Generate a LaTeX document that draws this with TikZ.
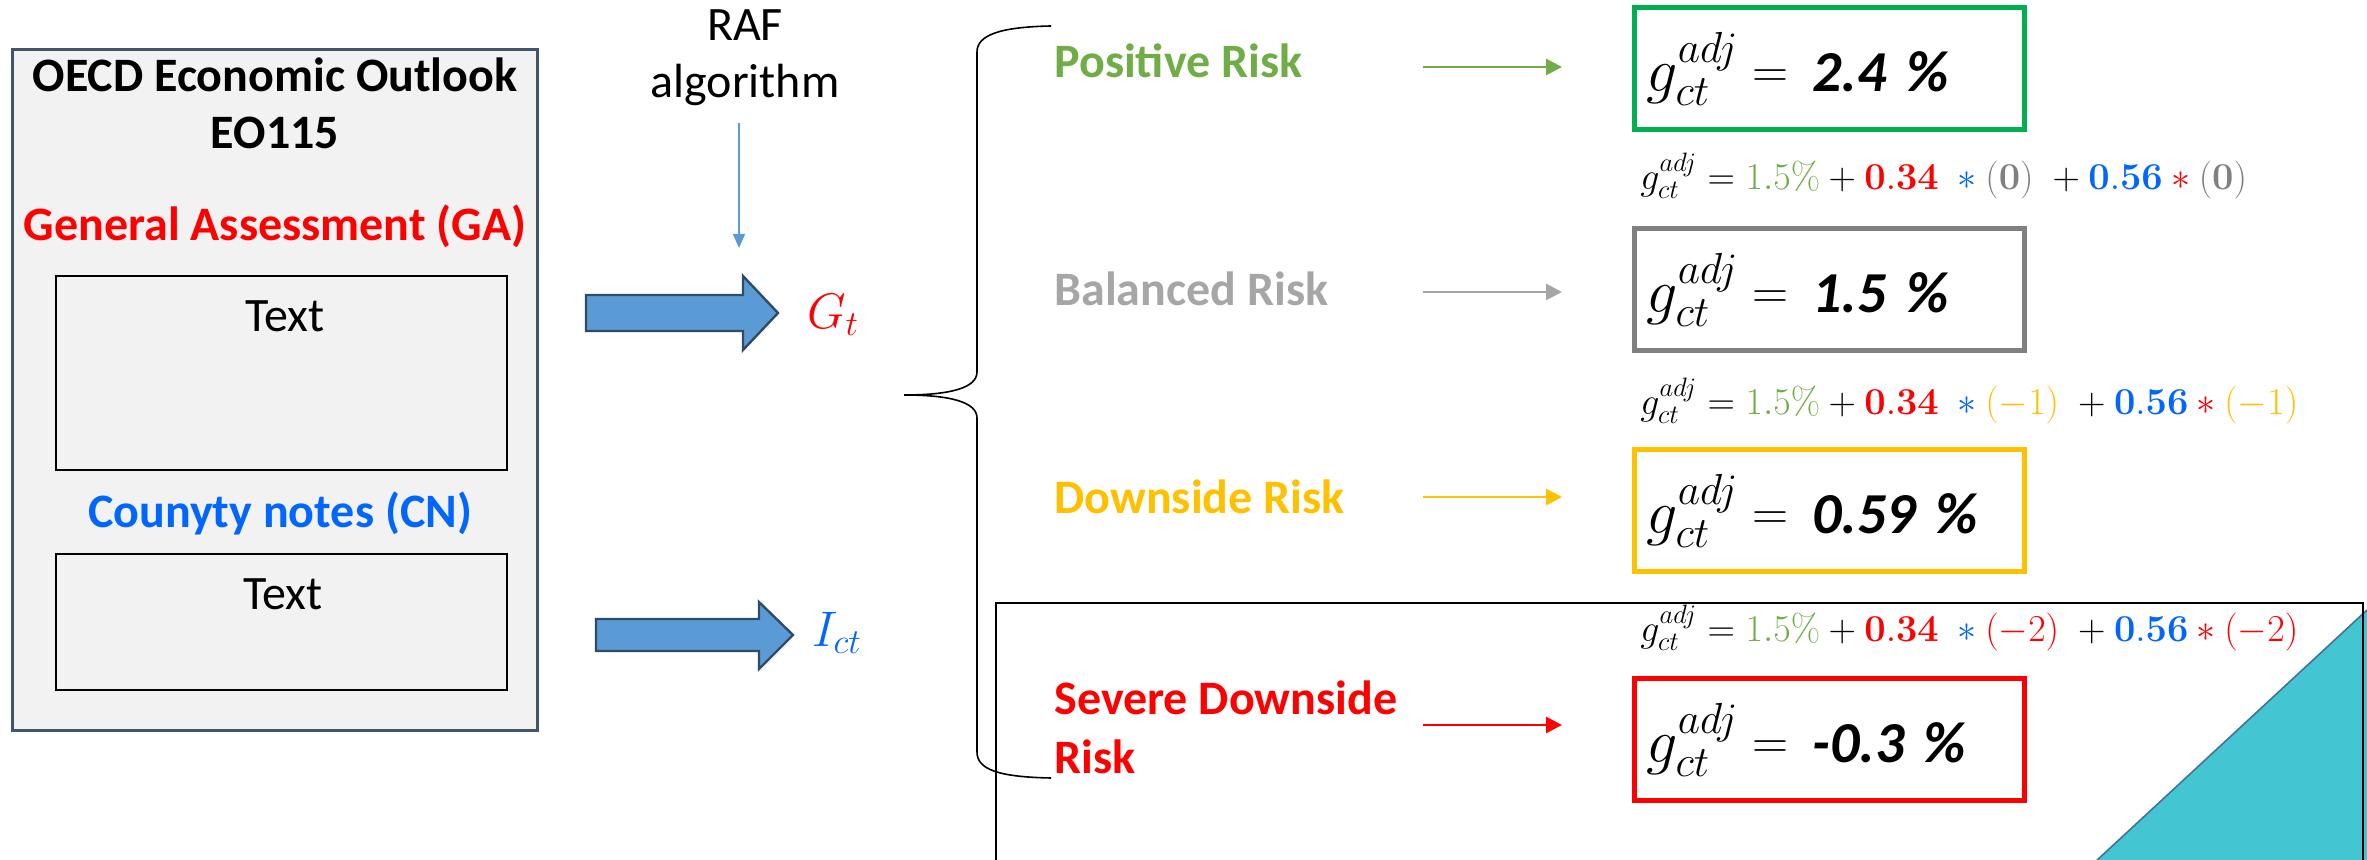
\RequirePackage{fix-cm}
\documentclass[tikz,border=0pt]{standalone}
\usepackage[no-math]{fontspec}
\setmainfont{Carlito}
\usepackage{amsmath}
\usetikzlibrary{arrows.meta,positioning}

\definecolor{riskgreen}{HTML}{70AD47}
\definecolor{boxgreen}{HTML}{00B050}
\definecolor{riskgray}{HTML}{A6A6A6}
\definecolor{boxgray}{HTML}{808080}
\definecolor{riskyellow}{HTML}{FFC000}
\definecolor{cnblue}{HTML}{0066FF}
\definecolor{arrowblue}{HTML}{5B9BD5}
\definecolor{arrowedge}{HTML}{2F4B68}
\definecolor{boxfill}{HTML}{F2F2F2}
\definecolor{boxedge}{HTML}{44546A}
\definecolor{cornerteal}{HTML}{43C6D1}
\definecolor{corneredge}{HTML}{41719C}

\begin{document}
\begin{tikzpicture}[x=0.5pt,y=-0.5pt,
  lbl/.style={font=\fontsize{24}{28.5}\selectfont\bfseries, align=center, inner sep=0pt},
  txt/.style={font=\fontsize{24}{28.5}\selectfont, align=center, inner sep=0pt},
  risk/.style={font=\fontsize{24}{29.5}\selectfont\bfseries, align=left, anchor=west, inner sep=0pt},
  riskarr/.style={line width=1.4pt, -{Triangle[length=8pt,width=8pt]}},
  valbox/.style={draw, line width=2.5pt, anchor=north west, minimum height=61pt,
    text width=183pt, inner xsep=6pt, align=left, font=\fontsize{29}{32}\selectfont},
  sumline/.style={anchor=base west, inner sep=0pt, font=\fontsize{19}{22}\selectfont},
  bigarr/.style={draw=arrowedge, fill=arrowblue, line width=1.2pt}]
\useasboundingbox (0,0) rectangle (2367,860);

% source document
\draw[boxedge, fill=boxfill, line width=1.5pt] (12,50) rectangle (537,730);
\draw[fill=boxfill, line width=1pt] (56,276) rectangle (507,470);
\draw[fill=boxfill, line width=1pt] (56,554) rectangle (507,690);
\node[lbl] (title) at (275,103) {OECD Economic Outlook\\EO115};
\node[lbl, text=red] (ga) at (275,226) {General Assessment (GA)};
\node[txt] (gatext) at (285,316) {Text};
\node[lbl, text=cnblue] (cn) at (280,513) {Counyty notes (CN)};
\node[txt] (cntext) at (283,594) {Text};

% algorithm
\node[txt] (raf) at (745,58) {RAF\\algorithm};
\coordinate (rafend) at (739,248);
\draw[arrowblue, line width=0.7pt, -{Triangle[length=7pt,width=6pt]}] (raf.south -| rafend) ++(0,17) -- (rafend);

\draw[bigarr] (586,295) -- (743,295) -- (743,276) -- (778,313) -- (743,350) -- (743,331) -- (586,331) -- cycle;
\draw[bigarr] (596,619) -- (759,619) -- (759,602) -- (793,635) -- (759,669) -- (759,651) -- (596,651) -- cycle;
\node[text=red, font=\fontsize{25}{30}\selectfont] (gt) at (833,315) {$G_t$};
\node[text=cnblue, font=\fontsize{25}{30}\selectfont] (ict) at (837,633) {$I_{ct}$};

% brace
\draw[line width=0.8pt] (1051,26) .. controls (1000,27) and (977,35) .. (977,52)
  -- (977,372) .. controls (977,388) and (950,395) .. (904,395)
  .. controls (950,395) and (977,402) .. (977,418)
  -- (977,752) .. controls (977,770) and (1000,777) .. (1051,778);

% scenarios
\fill[cornerteal] (2095,862) -- (2367,610) -- (2367,862) -- cycle;
\draw[corneredge, line width=0.8pt] (2095,862) -- (2367,610);
\draw[line width=1.2pt] (996,870) -- (996,603) -- (2363,603) -- (2363,870);

\foreach \i/\ly/\ay/\by/\tcol/\bcol/\name/\val in {
  1/61/67/5/riskgreen/boxgreen/{Positive Risk}/{2.4},
  2/289/292/226/riskgray/boxgray/{Balanced Risk}/{1.5},
  3/497/497/447/riskyellow/riskyellow/{Downside Risk}/{0.59},
  4/727/725/676/red/red/{Severe Downside\\Risk}/{-0.3}}{
  \node[risk, text=\tcol] (risk\i) at (1054,\ly) {\name};
  \coordinate (from\i) at (1423,\ay);
  \coordinate (to\i) at (1562,\ay);
  \draw[riskarr, \tcol] (from\i) -- (to\i);
  \node[valbox, draw=\bcol] (val\i) at (1632,\by)
    {{\fontsize{31}{33}\selectfont$g_{ct}^{adj}$}\hspace{7pt}\raisebox{2pt}{\fontsize{25}{27}\selectfont$=$}\hspace{12pt}\textbf{\textit{\val\ \%}}};
}

\foreach \j/\y/\mcol/\m in {1/190/boxgray/{\mathbf{(0)}}, 2/415/riskyellow/{(-1)}, 3/642/red/{(-2)}}{
  \node[sumline] (sum\j) at (1640,\y) {$g_{ct}^{adj} = {\color{riskgreen}1.5\%} + {\color{red}\mathbf{0.34}}\;\mathbin{\color{cnblue}*}{\color{\mcol}\m}\; + {\color{cnblue}\mathbf{0.56}}\mathbin{\color{red}*}{\color{\mcol}\m}$};
}

\end{tikzpicture}
\end{document}
